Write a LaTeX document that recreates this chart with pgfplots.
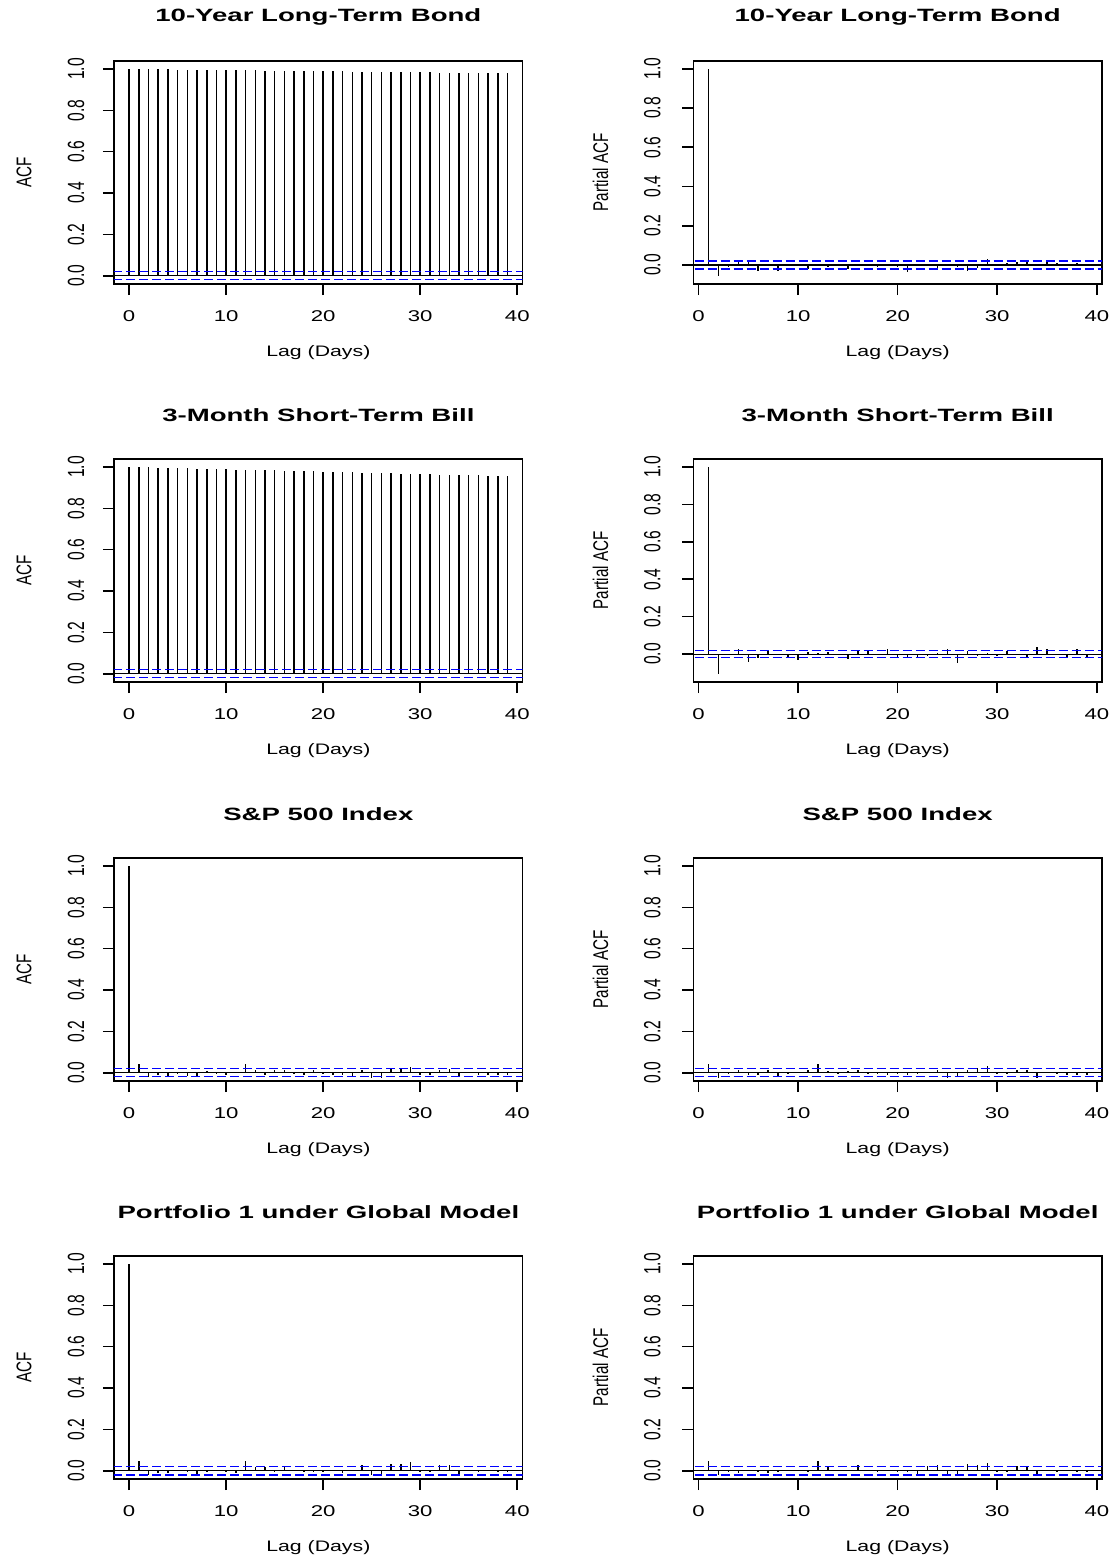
\documentclass[border=0pt]{standalone}
\usepackage{fontspec}
\setmainfont{Liberation Sans}
\usepackage{pgfplots}
\pgfplotsset{compat=1.18}

\pgfplotsset{
  rbase/.style={
    scale only axis, width=204.35pt, height=111.65pt,
    axis line style={line width=0.8pt},
    tick style={line width=0.8pt, black},
    major tick length=5.5pt, tick align=outside,
    xtick pos=left, ytick pos=left,
    xtick={0,10,20,30,40}, xticklabels={0,10,20,30,40},
    ytick={0,0.2,0.4,0.6,0.8,1}, yticklabels={0.0,0.2,0.4,0.6,0.8,1.0},
    tick label style={font=\fontsize{7.8}{8}\selectfont},
    xticklabel style={yshift=-4.25pt, xscale=1.42},
    xlabel={Lag (Days)},
    label style={font=\fontsize{7.6}{9}\selectfont},
    xlabel style={at={(axis description cs:0.5,-0.3077)}, anchor=center, xscale=1.4},
    every axis title shift=0pt,
    title style={at={(axis description cs:0.5,1.1957)}, anchor=center, font=\fontsize{8.9}{10}\selectfont\bfseries, xscale=1.55},
    clip=true,
  },
  acfpanel/.style={rbase, xmin=-1.56, xmax=40.56, ymin=-0.04, ymax=1.04, ylabel={ACF},
     yticklabel style={xshift=-13.5pt, rotate=90, yscale=1.5, anchor=center},
     ylabel style={at={(axis description cs:-0.2202,0.5)}, anchor=center, yscale=1.4}},
  pacfpanel/.style={rbase, xmin=-0.52, xmax=40.52, ylabel={Partial ACF},
     yticklabel style={xshift=-15pt, rotate=90, yscale=1.5, anchor=center},
     ylabel style={at={(axis description cs:-0.2269,0.5)}, anchor=center, yscale=1.4}},
  bars/.style={ycomb, black, line width=0.75pt, mark=none},
  ci/.style={blue, line width=0.7pt, dash pattern=on 4.5pt off 2pt, mark=none},
  zero/.style={black, line width=0.6pt, mark=none},
}

\newcommand{\refl}{%
  \addplot[zero] coordinates {(-3,0) (43,0)};
  \addplot[ci] coordinates {(-3,0.0196) (43,0.0196)};
  \addplot[ci] coordinates {(-3,-0.0196) (43,-0.0196)};
}

\begin{document}
\begin{tikzpicture}
\path[use as bounding box] (0,0) rectangle (556.5pt,-779.5pt);

% Row 1
\begin{axis}[acfpanel, at={(57pt,-142pt)}, anchor=south west, title={10-Year Long-Term Bond}]
\addplot[bars] table[x=lag,y=v]{
lag v
0 1.0000
1 0.9995
2 0.9990
3 0.9984
4 0.9979
5 0.9973
6 0.9968
7 0.9962
8 0.9957
9 0.9951
10 0.9946
11 0.9941
12 0.9935
13 0.9930
14 0.9924
15 0.9919
16 0.9913
17 0.9908
18 0.9903
19 0.9897
20 0.9892
21 0.9886
22 0.9881
23 0.9876
24 0.9870
25 0.9865
26 0.9859
27 0.9854
28 0.9849
29 0.9843
30 0.9838
31 0.9832
32 0.9827
33 0.9822
34 0.9816
35 0.9811
36 0.9805
37 0.9800
38 0.9795
39 0.9790
};
\refl
\end{axis}
\begin{axis}[pacfpanel, ymin=-0.097, ymax=1.041, at={(346.65pt,-142pt)}, anchor=south west, title={10-Year Long-Term Bond}]
\addplot[bars] table[x=lag,y=v]{
lag v
1 0.999
2 -0.055
3 -0.012
4 0.022
5 0.019
6 -0.029
7 -0.003
8 -0.029
9 0.007
10 0.002
11 -0.019
12 0.003
13 -0.012
14 0.007
15 -0.019
16 0.000
17 0.003
18 -0.008
19 -0.004
20 -0.008
21 -0.036
22 0.002
23 -0.003
24 -0.015
25 0.007
26 -0.012
27 -0.029
28 -0.015
29 0.029
30 0.007
31 0.010
32 0.014
33 0.014
34 0.002
35 0.014
36 0.012
37 0.003
38 0.010
39 0.002
};
\refl
\end{axis}

% Row 2
\begin{axis}[acfpanel, at={(57pt,-341pt)}, anchor=south west, title={3-Month Short-Term Bill}]
\addplot[bars] table[x=lag,y=v]{
lag v
0 1.0000
1 0.9989
2 0.9978
3 0.9966
4 0.9955
5 0.9944
6 0.9932
7 0.9921
8 0.9909
9 0.9898
10 0.9887
11 0.9875
12 0.9864
13 0.9852
14 0.9841
15 0.9830
16 0.9818
17 0.9807
18 0.9795
19 0.9784
20 0.9773
21 0.9761
22 0.9750
23 0.9738
24 0.9727
25 0.9716
26 0.9704
27 0.9693
28 0.9681
29 0.9670
30 0.9659
31 0.9647
32 0.9636
33 0.9624
34 0.9613
35 0.9602
36 0.9590
37 0.9579
38 0.9567
39 0.9556
};
\refl
\end{axis}
\begin{axis}[pacfpanel, ymin=-0.149, ymax=1.044, at={(346.65pt,-341pt)}, anchor=south west, title={3-Month Short-Term Bill}]
\addplot[bars] table[x=lag,y=v]{
lag v
1 0.998
2 -0.105
3 -0.005
4 0.027
5 -0.041
6 -0.023
7 0.016
8 0.003
9 -0.020
10 -0.032
11 0.012
12 0.004
13 0.012
14 -0.004
15 -0.027
16 0.016
17 0.021
18 0.003
19 0.027
20 -0.023
21 -0.020
22 -0.020
23 -0.008
24 0.004
25 0.027
26 -0.050
27 0.016
28 -0.008
29 0.005
30 -0.008
31 0.016
32 -0.004
33 -0.014
34 0.040
35 0.030
36 -0.005
37 -0.014
38 0.027
39 -0.014
};
\refl
\end{axis}

% Row 3
\begin{axis}[acfpanel, at={(57pt,-540.5pt)}, anchor=south west, title={S\&P 500 Index}]
\addplot[bars] table[x=lag,y=v]{
lag v
0 1.000
1 0.044
2 -0.021
3 -0.010
4 -0.015
5 -0.008
6 -0.015
7 -0.021
8 0.010
9 -0.005
10 -0.010
11 0.005
12 0.040
13 0.011
14 -0.010
15 0.011
16 0.011
17 -0.005
18 -0.010
19 0.014
20 -0.008
21 -0.012
22 -0.010
23 -0.015
24 0.012
25 -0.024
26 -0.024
27 0.019
28 0.024
29 0.030
30 -0.010
31 -0.010
32 0.014
33 0.019
34 -0.018
35 0.005
36 -0.010
37 -0.012
38 -0.010
39 -0.012
};
\refl
\end{axis}
\begin{axis}[pacfpanel, ymin=-0.04, ymax=1.04, at={(346.65pt,-540.5pt)}, anchor=south west, title={S\&P 500 Index}]
\addplot[bars] table[x=lag,y=v]{
lag v
1 0.040
2 -0.024
3 -0.008
4 0.011
5 -0.010
6 -0.012
7 0.011
8 -0.015
9 -0.006
10 0.004
11 0.014
12 0.040
13 0.008
14 -0.005
15 0.010
16 0.011
17 -0.005
18 -0.008
19 -0.010
20 -0.008
21 -0.012
22 -0.008
23 0.005
24 0.014
25 -0.024
26 -0.018
27 0.014
28 0.024
29 0.034
30 -0.008
31 -0.005
32 0.011
33 0.014
34 -0.024
35 0.005
36 -0.008
37 -0.010
38 -0.012
39 -0.010
};
\refl
\end{axis}

% Row 4
\begin{axis}[acfpanel, at={(57pt,-739.5pt)}, anchor=south west, title={Portfolio 1 under Global Model}]
\addplot[bars] table[x=lag,y=v]{
lag v
0 1.000
1 0.048
2 -0.019
3 -0.010
4 -0.010
5 0.003
6 -0.008
7 -0.019
8 -0.005
9 0.003
10 -0.005
11 -0.010
12 0.048
13 0.019
14 0.016
15 -0.005
16 0.019
17 0.005
18 -0.003
19 -0.008
20 -0.008
21 0.003
22 -0.010
23 0.005
24 0.029
25 -0.019
26 -0.019
27 0.032
28 0.032
29 0.042
30 -0.005
31 -0.008
32 0.026
33 0.026
34 -0.019
35 0.003
36 -0.005
37 0.003
38 -0.008
39 -0.005
};
\refl
\end{axis}
\begin{axis}[pacfpanel, ymin=-0.04, ymax=1.04, at={(346.65pt,-739.5pt)}, anchor=south west, title={Portfolio 1 under Global Model}]
\addplot[bars] table[x=lag,y=v]{
lag v
1 0.048
2 -0.019
3 -0.005
4 -0.010
5 0.003
6 -0.008
7 -0.010
8 -0.005
9 0.003
10 0.003
11 -0.008
12 0.048
13 0.016
14 0.005
15 0.003
16 0.026
17 0.005
18 -0.005
19 0.003
20 -0.005
21 -0.005
22 -0.016
23 0.021
24 0.026
25 -0.019
26 -0.019
27 0.032
28 0.026
29 0.037
30 -0.005
31 -0.005
32 0.021
33 0.019
34 -0.016
35 0.003
36 -0.005
37 0.003
38 -0.005
39 -0.005
};
\refl
\end{axis}
\end{tikzpicture}
\end{document}
